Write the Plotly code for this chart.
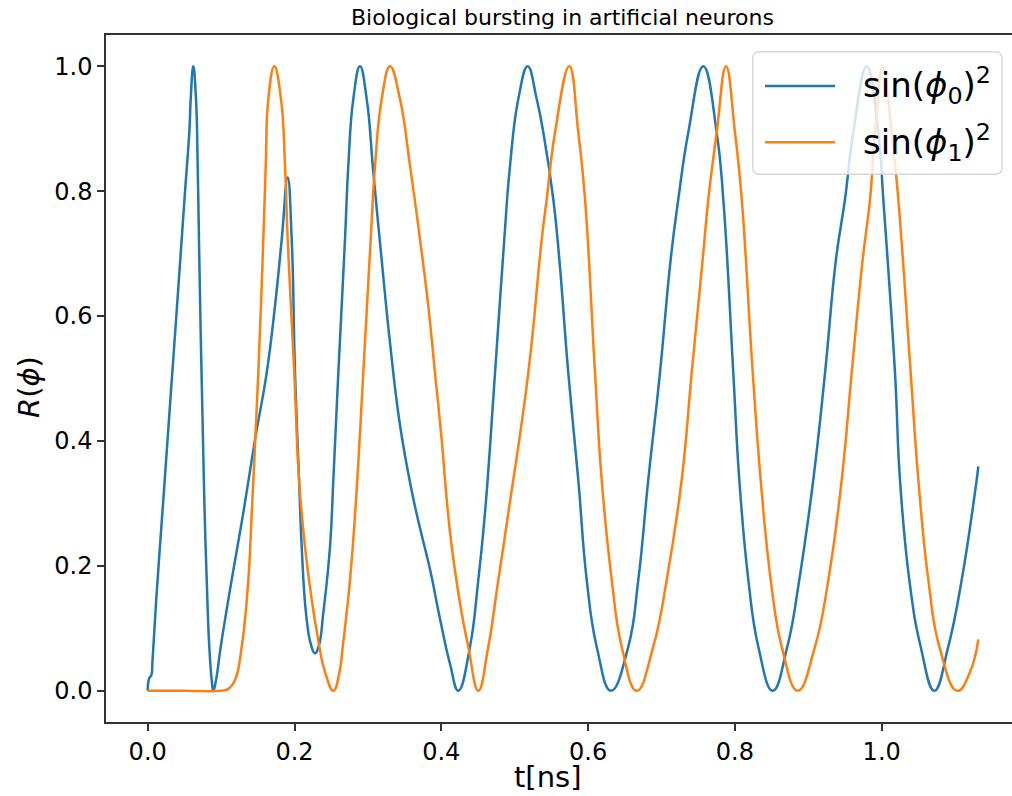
import plotly.graph_objects as go

# sin(phi_0)^2 trace
t0 = [0.0000, 0.0020, 0.0050, 0.0065, 0.0116, 0.0213, 0.0309, 0.0406, 0.0501, 0.0569,
      0.0586, 0.0621, 0.0658, 0.0681, 0.0703, 0.0771, 0.0804, 0.0839, 0.0872, 0.0894,
      0.0931, 0.0995, 0.1144, 0.1302, 0.1462, 0.1621, 0.1734, 0.1826, 0.1907, 0.1962,
      0.2007, 0.2062, 0.2098, 0.2157, 0.2225, 0.2279, 0.2334, 0.2392, 0.2484, 0.2529,
      0.2597, 0.2688, 0.2733, 0.2801, 0.2892, 0.2984, 0.3074, 0.3188, 0.3301, 0.3437,
      0.3597, 0.3710, 0.3846, 0.3982, 0.4119, 0.4232, 0.4391, 0.4504, 0.4595,
      0.4732, 0.4858, 0.4936, 0.5049, 0.5177, 0.5300, 0.5390, 0.5526, 0.5608, 0.5730,
      0.5866, 0.5981, 0.6117, 0.6312, 0.6548, 0.6684, 0.6820, 0.6979,
      0.7125, 0.7229, 0.7365, 0.7570, 0.7752, 0.7842, 0.7978, 0.8060, 0.8183, 0.8319,
      0.8515, 0.8714, 0.8877, 0.9068, 0.9228, 0.9377, 0.9500, 0.9613,
      0.9796, 0.9954, 1.0022, 1.0181, 1.0249, 1.0376, 1.0531, 1.0717,
      1.0907, 1.1090, 1.1294, 1.1316]
r0 = [0.0000, 0.0200, 0.0250, 0.0480, 0.1455, 0.3060, 0.4662, 0.6266, 0.7870, 0.8990,
      0.9474, 1.0000, 0.9474, 0.8404, 0.6910, 0.3060, 0.1776, 0.0706, 0.0172, 0.0000,
      0.0172, 0.0706, 0.1776, 0.2845, 0.4021, 0.5091, 0.6159, 0.7229, 0.8218, 0.7229,
      0.5091, 0.3379, 0.2310, 0.1241, 0.0733, 0.0600, 0.0733, 0.1241, 0.2310, 0.3379,
      0.5091, 0.7229, 0.8404, 0.9474, 1.0000, 0.9474, 0.8300, 0.6895, 0.5575, 0.4255,
      0.3200, 0.2605, 0.1945, 0.1153, 0.0428, 0.0000, 0.0706, 0.1776, 0.2845,
      0.5091, 0.7229, 0.8404, 0.9474, 1.0000, 0.9474, 0.8940, 0.7870, 0.6906, 0.5091,
      0.3379, 0.1776, 0.0706, 0.0000, 0.0706, 0.1776, 0.3379, 0.5091,
      0.6906, 0.7870, 0.8940, 1.0000, 0.8940, 0.7870, 0.5091, 0.3379, 0.1776, 0.0706,
      0.0000, 0.0706, 0.1776, 0.3379, 0.5091, 0.6906, 0.7870, 0.8940,
      1.0000, 0.8940, 0.7870, 0.5091, 0.3379, 0.1776, 0.0706, 0.0000,
      0.0706, 0.1776, 0.3379, 0.3593]

# sin(phi_1)^2 trace
t1 = [0.0000, 0.0500, 0.1000, 0.1094, 0.1189, 0.1281, 0.1371, 0.1417, 0.1507, 0.1575,
      0.1608, 0.1643, 0.1725, 0.1816, 0.1871, 0.1907, 0.1997, 0.2062, 0.2143, 0.2230,
      0.2302, 0.2416, 0.2529, 0.2613, 0.2657, 0.2756, 0.2838, 0.2937, 0.3038, 0.3097,
      0.3188, 0.3301, 0.3437, 0.3574, 0.3710, 0.3823, 0.3914, 0.4005, 0.4074, 0.4142,
      0.4278, 0.4368, 0.4504, 0.4640, 0.4777, 0.4913, 0.5185,
      0.5368, 0.5436, 0.5549, 0.5744, 0.5866, 0.5958, 0.6094, 0.6185, 0.6322, 0.6458,
      0.6662, 0.6888, 0.7071, 0.7275, 0.7411, 0.7561, 0.7638, 0.7752,
      0.7879, 0.8001, 0.8093, 0.8243, 0.8351, 0.8488, 0.8638, 0.8856,
      0.9091, 0.9273, 0.9455, 0.9591, 0.9741, 0.9841, 0.9909, 1.0014, 1.0136, 1.0226,
      1.0395, 1.0499, 1.0635, 1.0785, 1.1030, 1.1203, 1.1316]
r1 = [0.0000, 0.0000, 0.0000, 0.0027, 0.0172, 0.0706, 0.1776, 0.2845, 0.5091, 0.7229,
      0.8404, 0.9474, 1.0000, 0.9474, 0.8404, 0.7229, 0.5091, 0.3379, 0.2310, 0.1500,
      0.0958, 0.0300, 0.0000, 0.0300, 0.0706, 0.1776, 0.3059, 0.5091, 0.7229, 0.8404,
      0.9474, 1.0000, 0.9474, 0.8404, 0.7229, 0.6159, 0.5091, 0.4021, 0.3059, 0.2310,
      0.1241, 0.0706, 0.0000, 0.0706, 0.1776, 0.2845, 0.5091,
      0.7229, 0.7870, 0.8940, 1.0000, 0.8940, 0.7870, 0.5091, 0.3379, 0.1776, 0.0706,
      0.0000, 0.0706, 0.1776, 0.3379, 0.5091, 0.6906, 0.7870, 0.8940,
      1.0000, 0.8940, 0.7870, 0.5091, 0.3379, 0.1776, 0.0706, 0.0000,
      0.0706, 0.1776, 0.3379, 0.5091, 0.6906, 0.7870, 0.8940, 1.0000, 0.8940, 0.7870,
      0.5091, 0.3379, 0.1776, 0.0706, 0.0000, 0.0300, 0.0824]

x_ticks = [0.0, 0.2, 0.4, 0.6, 0.8, 1.0]
y_ticks = [0.0, 0.2, 0.4, 0.6, 0.8, 1.0]

BLUE = "#1f77b4"
ORANGE = "#ff7f0e"
FONT = "DejaVu Sans"

W, H = 1012, 796
ML, MR, MT, MB = 106, 0, 35, 74
PW, PH = W - ML - MR, H - MT - MB


def px(xp):
    return (xp - ML) / PW


def py(yp):
    return (H - MB - yp) / PH


fig = go.Figure()
fig.add_trace(go.Scatter(x=t0, y=r0, mode="lines", name="sin(φ0)^2",
                         line=dict(color=BLUE, width=2.5, shape="spline", smoothing=1.3),
                         showlegend=False))
fig.add_trace(go.Scatter(x=t1, y=r1, mode="lines", name="sin(φ1)^2",
                         line=dict(color=ORANGE, width=2.5, shape="spline", smoothing=1.3),
                         showlegend=False))

axis_common = dict(showgrid=False, zeroline=False, showline=True, linecolor="#333333",
                   linewidth=1.5, ticks="outside", ticklen=7, tickwidth=1.5,
                   tickcolor="#333333", tickfont=dict(family=FONT, size=24, color="black"))

fig.update_xaxes(range=[(ML - 147.7) / 734, (W - 147.7) / 734], tickvals=x_ticks,
                 ticktext=[f"{v:.1f}" for v in x_ticks], mirror=True, **axis_common)
fig.update_yaxes(range=[-0.05, 1.05], tickvals=y_ticks,
                 ticktext=[f"{v:.1f}" for v in y_ticks], **axis_common)

# Legend frame with rounded corners, drawn in paper coordinates
lx0, lx1, ly0, ly1, rad = 752.7, 1002.0, 51.7, 174.3, 7.0
path = (f"M {px(lx0 + rad)},{py(ly0)} L {px(lx1 - rad)},{py(ly0)} "
        f"Q {px(lx1)},{py(ly0)} {px(lx1)},{py(ly0 + rad)} "
        f"L {px(lx1)},{py(ly1 - rad)} Q {px(lx1)},{py(ly1)} {px(lx1 - rad)},{py(ly1)} "
        f"L {px(lx0 + rad)},{py(ly1)} Q {px(lx0)},{py(ly1)} {px(lx0)},{py(ly1 - rad)} "
        f"L {px(lx0)},{py(ly0 + rad)} Q {px(lx0)},{py(ly0)} {px(lx0 + rad)},{py(ly0)} Z")
shapes = [dict(type="path", path=path, xref="paper", yref="paper",
               fillcolor="rgba(255,255,255,0.8)", line=dict(color="rgba(204,204,204,0.8)", width=1.4),
               layer="above")]
for yy, col in [(86.0, BLUE), (142.3, ORANGE)]:
    shapes.append(dict(type="line", xref="paper", yref="paper", x0=px(765), x1=px(835),
                       y0=py(yy), y1=py(yy), line=dict(color=col, width=2.5), layer="above"))

annotations = [
    dict(text="sin(<i>ϕ</i><sub>0</sub>)<sup>2</sup>", x=px(861), y=py(86), xref="paper",
         yref="paper", xanchor="left", yanchor="middle", showarrow=False,
         font=dict(family=FONT, size=34, color="black")),
    dict(text="sin(<i>ϕ</i><sub>1</sub>)<sup>2</sup>", x=px(861), y=py(142.3), xref="paper",
         yref="paper", xanchor="left", yanchor="middle", showarrow=False,
         font=dict(family=FONT, size=34, color="black")),
    dict(text="Biological bursting in artificial neurons", x=px(562.5), y=py(17.5),
         xref="paper", yref="paper", xanchor="center", yanchor="middle", showarrow=False,
         font=dict(family=FONT, size=22, color="black")),
    dict(text="t[ns]", x=px(547.5), y=py(777), xref="paper", yref="paper",
         xanchor="center", yanchor="middle", showarrow=False,
         font=dict(family=FONT, size=29, color="black")),
    dict(text="<i>R</i>(<i>ϕ</i>)", x=px(29), y=py(387), xref="paper", yref="paper",
         xanchor="center", yanchor="middle", showarrow=False, textangle=-90,
         font=dict(family=FONT, size=29, color="black")),
]

fig.update_layout(width=W, height=H, margin=dict(l=ML, r=MR, t=MT, b=MB),
                  plot_bgcolor="white", paper_bgcolor="white",
                  shapes=shapes, annotations=annotations, showlegend=False)

fig.write_html("out.html")
